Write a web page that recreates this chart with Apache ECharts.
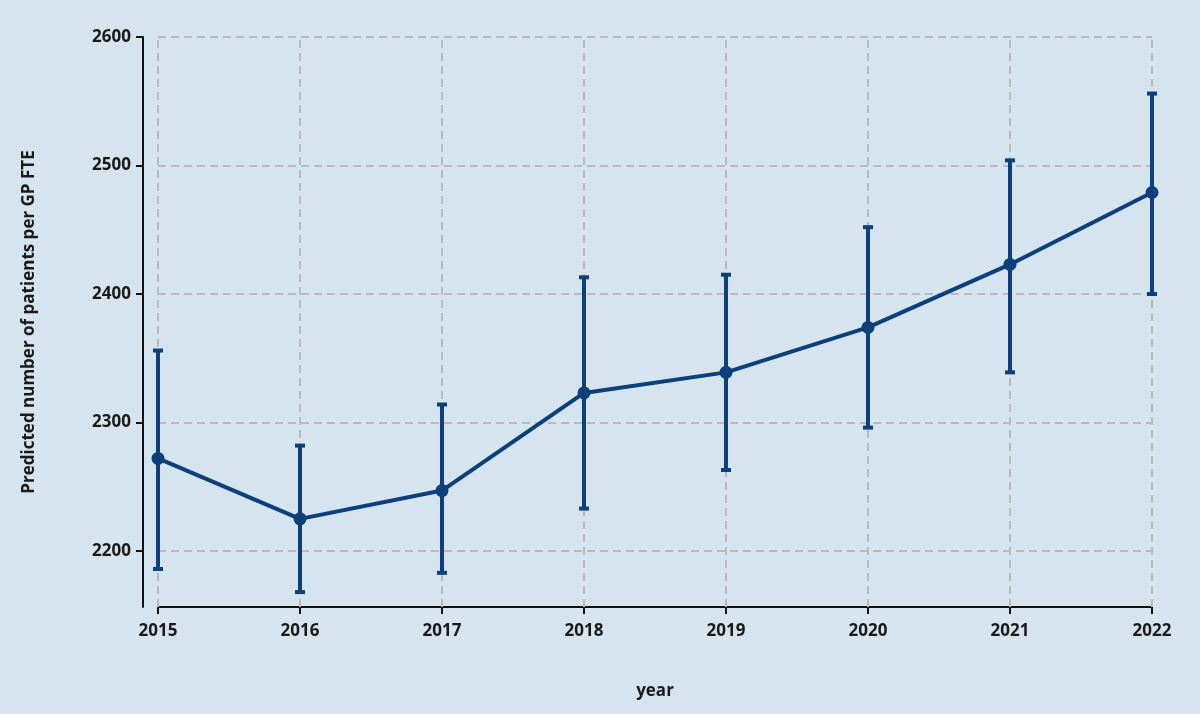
<!DOCTYPE html><html><head><meta charset="utf-8"><script src="https://cdn.jsdelivr.net/npm/echarts@6/dist/echarts.min.js"></script></head>
<body style="margin:0;background:#d5e4ee"><div id="c" style="width:1200px;height:714px"></div><script>
const years=[2015,2016,2017,2018,2019,2020,2021,2022];
const est=[2272,2225,2247,2323,2339,2374,2423,2479];
const lower=[2186,2168,2183,2233,2263,2296,2339,2400];
const upper=[2356,2282,2314,2413,2415,2452,2504,2556];
const yTicks=[2200,2300,2400,2500,2600];
const col='#0d3f7a';
const ch=echarts.init(document.getElementById('c'));
const lab={color:'#1a1a1a',fontSize:17,fontWeight:'bold',fontFamily:'Open Sans'};
const gl={type:[8,5],color:'#b9b9bf',width:2};
ch.setOption({backgroundColor:'#d5e4ee',
grid:{left:158,right:48,top:37,bottom:107},
xAxis:{type:'value',min:2015,max:2022,interval:1,name:'year',nameLocation:'middle',nameGap:76,nameTextStyle:lab,
axisLine:{lineStyle:{color:'#111',width:2}},axisTick:{length:7,lineStyle:{color:'#111',width:2}},
axisLabel:Object.assign({margin:16,formatter:v=>String(v)},lab),splitLine:{show:false}},
yAxis:{type:'value',min:2156.4,max:2600,offset:15,name:'Predicted number of patients per GP FTE',nameLocation:'middle',nameGap:105,nameTextStyle:lab,
axisLine:{show:true,lineStyle:{color:'#111',width:2}},
axisTick:{show:true,customValues:yTicks,length:7,lineStyle:{color:'#111',width:2}},
axisLabel:Object.assign({margin:12,customValues:yTicks,formatter:v=>String(v)},lab),
splitLine:{show:false}},
series:[{type:'custom',data:years.map((y,i)=>[y,lower[i],upper[i]]),z:3,
renderItem:(p,api)=>{const x=api.value(0);const a=api.coord([x,api.value(1)]),b=api.coord([x,api.value(2)]);const w=5;
const st={stroke:col,lineWidth:4};
return{type:'group',children:[{type:'line',shape:{x1:a[0],y1:a[1],x2:b[0],y2:b[1]},style:st},
{type:'line',shape:{x1:a[0]-w,y1:a[1],x2:a[0]+w,y2:a[1]},style:st},
{type:'line',shape:{x1:b[0]-w,y1:b[1],x2:b[0]+w,y2:b[1]},style:st}]};}},
{type:'line',data:years.map((y,i)=>[y,est[i]]),symbol:'circle',symbolSize:13,z:4,
lineStyle:{color:col,width:4},itemStyle:{color:col},
markLine:{silent:true,symbol:'none',label:{show:false},lineStyle:gl,z:1,
data:years.map(y=>({xAxis:y})).concat(yTicks.map(v=>({yAxis:v})))}}]});
</script></body></html>
